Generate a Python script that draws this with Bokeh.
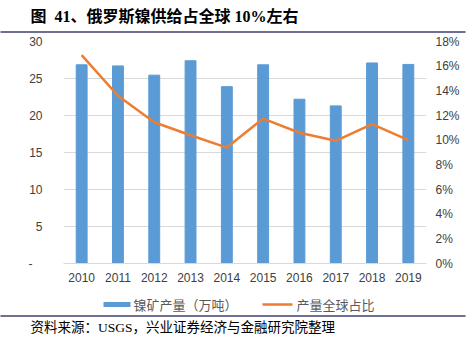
from bokeh.plotting import figure
from bokeh.models import (Range1d, LinearAxis, SingleIntervalTicker, PrintfTickFormatter, FixedTicker)
from bokeh.core.properties import value
from bokeh.embed import file_html
from bokeh.resources import INLINE

years = ["2010", "2011", "2012", "2013", "2014", "2015", "2016", "2017", "2018", "2019"]
output = [26.85, 26.7, 25.45, 27.4, 23.9, 26.85, 22.2, 21.3, 27.1, 26.9]
share = [16.9, 13.6, 11.45, 10.4, 9.4, 11.75, 10.6, 9.95, 11.3, 10.0]

title_text = "图\u00a0\u00a041、俄罗斯镍供给占全球 10%左右"
source_text = "资料来源：USGS，兴业证券经济与金融研究院整理"
bar_name = "镍矿产量（万吨）"
line_name = "产量全球占比"

BAR = "#5B9BD5"
LINE = "#ED7D31"
GRID = "#D9D9D9"
TXT = "#404040"
RULE = "#3F3F72"
SANS = "Liberation Sans"
CJK = "Noto Sans CJK SC"
SERIF = "Liberation Serif, Noto Sans CJK SC"

W, H = 473, 345
FL, FR, FT, FB = 63, 426, 41, 263

idx = list(range(len(years)))

p = figure(width=W, height=H, x_range=Range1d(-0.5, len(years) - 0.5), y_range=Range1d(0, 30),
           output_backend="svg", toolbar_location=None,
           min_border_left=FL, min_border_right=W - FR, min_border_top=FT, min_border_bottom=H - FB)
p.outline_line_color = None
p.background_fill_color = "white"
p.border_fill_color = "white"
p.extra_y_ranges = {"pct": Range1d(0, 18), "py": Range1d(FB, FT)}
p.extra_x_ranges = {"px": Range1d(FL, FR)}

p.vbar(x=idx, top=output, width=0.3, color=BAR)
p.line(x=idx, y=share, y_range_name="pct", color=LINE, line_width=2.5)


def style_axis(ax, standoff):
    ax.major_tick_line_color = None
    ax.minor_tick_line_color = None
    ax.major_tick_out = 0
    ax.major_tick_in = 0
    ax.minor_tick_out = 0
    ax.minor_tick_in = 0
    ax.major_label_standoff = standoff
    ax.major_label_text_font = SANS
    ax.major_label_text_font_size = "12px"
    ax.major_label_text_color = TXT


ya = p.yaxis[0]
ya.ticker = SingleIntervalTicker(interval=5)
ya.major_label_overrides = {0: "-\u00a0\u00a0\u00a0"}
ya.axis_line_color = None
style_axis(ya, 21)

ra = LinearAxis(y_range_name="pct", ticker=SingleIntervalTicker(interval=2),
                formatter=PrintfTickFormatter(format="%d%%"))
ra.axis_line_color = None
style_axis(ra, 9)
p.add_layout(ra, "right")

xa = p.xaxis[0]
xa.ticker = FixedTicker(ticks=idx)
xa.major_label_overrides = {i: y for i, y in zip(idx, years)}
xa.axis_line_color = GRID
style_axis(xa, 9)

p.xgrid.grid_line_color = None
p.ygrid.grid_line_color = GRID
p.ygrid.ticker = SingleIntervalTicker(interval=5)

# page furniture in pixel ranges on the overlay level (not clipped to the frame)
OV = dict(x_range_name="px", y_range_name="py", level="overlay")
p.text(x=[30], y=[16], text=[title_text], text_font=value(SERIF), text_font_style="bold",
       text_font_size="16px", text_color="black", text_baseline="middle", text_align="left", **OV)
p.segment(x0=[0, 0], y0=[31.5, 315.5], x1=[465, 465], y1=[31.5, 315.5],
          line_color=RULE, line_width=1.5, **OV)
p.text(x=[30], y=[327], text=[source_text], text_font=value(SERIF), text_font_size="13.5px",
       text_color="black", text_baseline="middle", text_align="left", **OV)

# legend keys and labels
p.quad(left=[103], right=[130], top=[301.5], bottom=[306.5], fill_color=BAR, line_color=None, **OV)
p.segment(x0=[262], y0=[304], x1=[292], y1=[304], line_color=LINE, line_width=2.5, **OV)
p.text(x=[133, 296], y=[304, 304], text=[bar_name, line_name], text_font=value(CJK),
       text_font_size="13px", text_color="#595959", text_baseline="middle", text_align="left", **OV)

open("out.html", "w").write(file_html(p, INLINE))
